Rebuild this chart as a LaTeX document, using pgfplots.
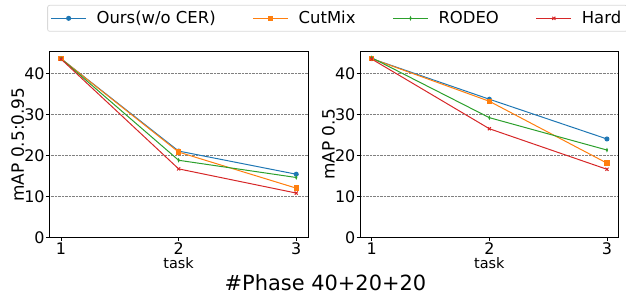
\documentclass[border=0pt]{standalone}
\usepackage{pgfplots}
\pgfplotsset{compat=1.18}
\usepackage{fontspec}
\setmainfont{DejaVu Sans}
\definecolor{tblue}{HTML}{1F77B4}
\definecolor{torange}{HTML}{FF7F0E}
\definecolor{tgreen}{HTML}{2CA02C}
\definecolor{tred}{HTML}{D62728}
\pgfplotsset{
  myaxis/.style={
    scale only axis,
    width=258.7bp, height=185.6bp,
    xmin=0.9, xmax=3.1, ymin=0, ymax=45.3,
    xtick={1,2,3}, ytick={0,10,20,30,40},
    tick align=outside, major tick length=3.5bp,
    tick style={black, line width=0.8bp},
    xtick pos=bottom, ytick pos=left,
    axis line style={black, line width=0.8bp},
    ymajorgrids,
    major grid style={densely dotted, gray, line width=0.7bp},
    /pgf/number format/assume math mode=true,
    ticklabel style={font=\fontsize{16}{19}\selectfont},
    yticklabel style={inner sep=1bp},
    xticklabel style={inner sep=2bp},
    xlabel={task},
    xlabel style={font=\fontsize{14.5}{17}\selectfont, inner sep=0bp,
      at={(axis description cs:0.5,-0.14)}, anchor=center},
    ylabel style={font=\fontsize{17}{20}\selectfont, inner sep=0bp,
      at={(axis description cs:-0.122,0.5)}, anchor=center},
    every axis plot/.append style={line width=1bp},
  },
  sb/.style={color=tblue, mark=*, mark size=2bp},
  so/.style={color=torange, mark=square*, mark size=2.2bp},
  sg/.style={color=tgreen, mark=diamond*, mark size=2.5bp, mark options={scale=0.5, xscale=0.6}},
  sr/.style={color=tred, mark=x, mark size=2.2bp},
}
\begin{document}
\begin{tikzpicture}[x=1bp,y=1bp]
\useasboundingbox (0,0) rectangle (626,-299);
\begin{axis}[myaxis, at={(49.3bp,-237.3bp)}, anchor=south west,
  ylabel={mAP 0.5:0.95},
  legend columns=4,
  legend style={at={(axis description cs:-0.008,1.252)}, anchor=north west,
    draw=gray!30, rounded corners=2bp, line width=0.8bp,
    font=\fontsize{16.5}{19}\selectfont,
    inner xsep=3bp, inner ysep=3bp,
    /tikz/every odd column/.append style={column sep=7bp},
    /tikz/every even column/.append style={column sep=34bp},
    nodes={inner sep=3bp}},
  legend image code/.code={\draw[mark repeat=2,mark phase=2,#1] plot coordinates {(0bp,0bp)(17.5bp,0bp)(35bp,0bp)};},
]
\addplot[sb] coordinates {(1,43.6)(2,21.05)(3,15.4)};
\addlegendentry{Ours(w/o CER)}
\addplot[so] coordinates {(1,43.6)(2,20.8)(3,12.0)};
\addlegendentry{CutMix}
\addplot[sg] coordinates {(1,43.6)(2,18.8)(3,14.6)};
\addlegendentry{RODEO}
\addplot[sr] coordinates {(1,43.5)(2,16.7)(3,10.8)};
\addlegendentry{Hard}
\end{axis}
\begin{axis}[myaxis, at={(360bp,-237.3bp)}, anchor=south west,
  ylabel={mAP 0.5}]
\addplot[sb] coordinates {(1,43.6)(2,33.7)(3,24.0)};
\addplot[so] coordinates {(1,43.6)(2,33.2)(3,18.1)};
\addplot[sg] coordinates {(1,43.8)(2,29.2)(3,21.3)};
\addplot[sr] coordinates {(1,43.5)(2,26.5)(3,16.6)};
\end{axis}
\node[font=\fontsize{21}{25}\selectfont, inner sep=0pt] at (325.5,-283) {\#Phase 40+20+20};
\end{tikzpicture}
\end{document}
